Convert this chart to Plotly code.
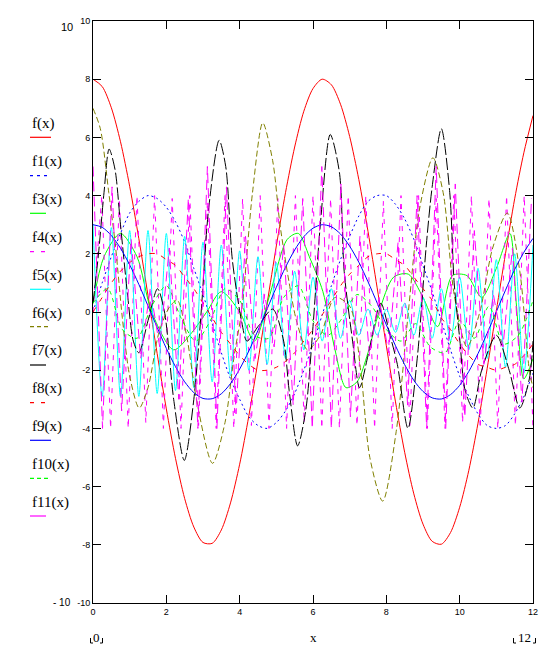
import plotly.graph_objects as go

# ---------------- data ----------------
x_q = [0, 0.25, 0.5, 0.75, 1.0, 1.25, 1.5, 1.75, 2.0, 2.25, 2.5, 2.75, 3.0, 3.25,
       3.5, 3.75, 4.0, 4.25, 4.5, 4.75, 5.0, 5.25, 5.5, 5.75, 6.0, 6.25, 6.5,
       6.75, 7.0, 7.25, 7.5, 7.75, 8.0, 8.25, 8.5, 8.75, 9.0, 9.25, 9.5, 9.75,
       10.0, 10.25, 10.5, 10.75, 11.0, 11.25, 11.5, 11.75, 12.0]

f_vals = [8.0, 7.75, 7.02, 5.85, 4.32, 2.52, 0.57, -1.43, -3.33, -5.03, -6.41,
          -7.39, -7.92, -7.95, -7.49, -6.56, -5.23, -3.57, -1.68, 0.30, 2.27, 4.10,
          5.67, 6.90, 7.68, 8.0, 7.81, 7.14, 6.03, 4.55, 2.77, 0.83, -1.16, -3.09,
          -4.82, -6.25, -7.29, -7.88, -7.98, -7.58, -6.71, -5.44, -3.82, -1.94,
          0.04, 2.01, 3.89, 5.47, 6.75]
f1_vals = [0.0, 1.0, 1.9, 2.7, 3.4, 3.8, 4.0, 3.9, 3.6, 3.1, 2.4, 1.5, 0.6, -0.4,
           -1.4, -2.3, -3.0, -3.6, -3.9, -4.0, -3.8, -3.4, -2.8, -2.0, -1.1, -0.1,
           0.9, 1.8, 2.6, 3.3, 3.8, 4.0, 4.0, 3.7, 3.2, 2.5, 1.6, 0.7, -0.3, -1.3,
           -2.2, -2.9, -3.5, -3.9, -4.0, -3.9, -3.5, -2.9, -2.1]
f8_vals = [0.0, 0.5, 1.0, 1.4, 1.7, 1.9, 2.0, 2.0, 1.8, 1.6, 1.2, 0.8, 0.3, -0.2,
           -0.7, -1.1, -1.5, -1.8, -2.0, -2.0, -1.9, -1.7, -1.4, -1.0, -0.6, -0.1,
           0.4, 0.9, 1.3, 1.6, 1.9, 2.0, 2.0, 1.8, 1.6, 1.2, 0.8, 0.4, -0.2, -0.6,
           -1.1, -1.5, -1.8, -1.9, -2.0, -1.9, -1.8, -1.5, -1.1]
f9_vals = [3.0, 2.91, 2.63, 2.19, 1.62, 0.95, 0.21, -0.53, -1.25, -1.88, -2.40,
           -2.77, -2.97, -2.98, -2.81, -2.46, -1.96, -1.34, -0.63, 0.11, 0.85, 1.54,
           2.13, 2.59, 2.88, 3.0, 2.93, 2.68, 2.26, 1.71, 1.04, 0.31, -0.44, -1.16,
           -1.81, -2.35, -2.73, -2.95, -2.99, -2.84, -2.52, -2.04, -1.43, -0.73,
           0.01, 0.75, 1.46, 2.05, 2.53]
f5_vals = [3.0, -2.9, 2.9, -2.9, 2.8, -2.9, 2.8, -2.8, 2.7, -2.7, 2.6, -2.6, 2.4,
           -2.4, 2.3, -2.2, 2.1, -2.0, 1.9, -1.8, 1.7, -1.6, 1.4, -1.3, 1.2, -1.0,
           0.8, -0.9, 0.4, -0.8, 0.1, -0.8, 0.1, -0.7, 0.3, -0.8, 0.5, -0.9, 0.8,
           -1.0, 1.2, -1.3, 1.5, -1.6, 1.8, -1.9, 2.0, -2.1, 2.3]

f3_x = [0, 0.3, 0.75, 1.2, 1.6, 2.2, 2.7, 3.1, 3.5, 4.0, 4.4, 4.8, 5.3, 5.6, 5.9,
        6.27, 6.6, 6.9, 7.2, 7.5, 7.8, 8.2, 8.6, 9.0, 9.4, 9.8, 10.2, 10.6, 11.0,
        11.37, 11.55, 11.75, 12.0]
f3_y = [0.3, 1.9, 2.7, 1.9, 0.0, -1.3, -0.7, 0.0, 0.7, 0.0, -1.0, 0.5, 2.5, 2.7,
        1.9, 0.7, -1.3, -2.6, -2.4, -1.4, 0.0, 1.2, 1.3, 0.5, -0.5, 1.25, 1.25,
        0.5, 1.5, 2.7, 0.2, -2.3, -1.6]

x_f4 = [0, 0.24, 0.48, 0.72, 0.96, 1.2, 1.44, 1.68, 1.92, 2.16, 2.4, 2.64, 2.88,
        3.12, 3.36, 3.6, 3.84, 4.08, 4.32, 4.56, 4.8, 5.04, 5.28, 5.52, 5.76, 6.0,
        6.24, 6.48, 6.72, 6.96, 7.2, 7.44, 7.68, 7.92, 8.16, 8.4, 8.64, 8.88,
        9.12, 9.36, 9.6, 9.84, 10.08, 10.32, 10.56, 10.8, 11.04, 11.28, 11.52,
        11.76, 12.0]
f4_vals = [0.0, 4.0, -4.0, 3.9, -4.0, 4.0, -3.8, 4.0, -4.0, 3.9,
           -4.0, 4.0, -3.9, 3.8, -4.0, 4.0, -4.0, 3.9, -3.9, 4.0,
           -4.0, 3.9, -4.0, 4.0, -3.8, 4.0, -4.0, 3.9, -4.0, 4.0,
           -3.9, 4.0, -4.0, 3.8, -4.0, 4.0, -3.9, 4.0, -4.0, 3.9,
           -4.0, 4.0, -3.8, 4.0, -4.0, 3.9, -4.0, 4.0, -3.9, 4.0, -4.0]

f6_x = [0, 0.2, 0.43, 0.61, 0.8, 1.0, 1.26, 1.5, 1.8, 2.1, 2.3, 2.55, 2.85, 3.26,
        3.6, 3.85, 4.05, 4.35, 4.63, 4.9, 5.1, 5.35, 5.55, 5.85, 6.2, 6.6, 7.0,
        7.3, 7.55, 7.9, 8.27, 8.6, 8.9, 9.27, 9.55, 9.85, 10.2, 10.55, 10.9,
        11.3, 11.64, 11.9, 12.0]
f6_y = [7.0, 6.3, 4.1, 2.3, -0.2, -2.2, -3.3, -2.6, -0.7, 0.2, 0.4, -0.8, -3.2,
        -5.2, -3.8, -1.5, 0.0, 4.1, 6.5, 5.2, 3.0, 1.0, -0.3, -1.3, -0.8, 0.5,
        0.2, -2.0, -5.0, -6.5, -4.1, 0.0, 3.5, 5.3, 4.1, 0.6, -1.2, 0.0, 2.2,
        3.4, 1.4, -2.0, -2.6]

f7_x = [0, 0.15, 0.3, 0.44, 0.6, 0.75, 0.95, 1.1, 1.25, 1.5, 1.76, 1.95, 2.2,
        2.49, 2.75, 2.95, 3.15, 3.44, 3.62, 3.8, 4.05, 4.2, 4.5, 4.9, 5.2, 5.35,
        5.58, 5.8, 6.0, 6.2, 6.47, 6.72, 6.85, 7.08, 7.27, 7.5, 7.85, 8.1, 8.3,
        8.59, 8.85, 9.09, 9.25, 9.5, 9.73, 9.85, 10.0, 10.15, 10.36, 10.6, 11.0,
        11.35, 11.64, 11.9, 12.0]
f7_y = [0.3, 2.0, 4.1, 5.6, 4.9, 3.0, 0.5, -1.0, -1.4, -0.3, 0.8, 0.0, -3.0,
        -5.1, -3.0, 0.0, 3.5, 5.9, 5.0, 1.8, -0.3, -1.0, -0.5, 0.1, -1.0, -2.7,
        -4.6, -3.4, -0.5, 3.0, 6.1, 4.8, 1.4, -1.0, -2.6, -1.5, 0.3, -0.8, -1.8,
        -4.0, -1.5, 2.3, 4.3, 6.3, 4.1, 1.0, -0.9, -2.7, -3.3, -2.0, -0.8, -2.0,
        -3.3, -2.3, -1.0]

x_f10 = [0, 0.4, 0.8, 1.2, 1.6, 2.0, 2.4, 2.8, 3.2, 3.6, 4.0, 4.4, 4.8, 5.2, 5.6,
         6.0, 6.4, 6.8, 7.2, 7.6, 8.0, 8.4, 8.8, 9.2, 9.6, 10.0, 10.4, 10.8, 11.2,
         11.6, 12.0]
f10_vals = [0.3, 0.8, -0.6, -0.9, 0.2, 0.9, -0.2, -1.0, -0.3, 0.8, 0.4, -0.8,
            -0.9, 0.5, 0.9, -0.3, -0.8, -0.2, 0.6, 0.2, -0.6, -1.0, -0.4, -1.2,
            -1.4, -0.3, -0.9, 0.2, -1.1, -0.8, 0.4]

x_f11 = [0, 0.26, 0.52, 0.78, 1.04, 1.3, 1.56, 1.82, 2.08, 2.34, 2.6, 2.86, 3.12,
         3.38, 3.64, 3.9, 4.16, 4.42, 4.68, 4.94, 5.2, 5.46, 5.72, 5.98, 6.24,
         6.5, 6.76, 7.02, 7.28, 7.54, 7.8, 8.06, 8.32, 8.58, 8.84, 9.1, 9.36,
         9.62, 9.88, 10.14, 10.4, 10.66, 10.92, 11.18, 11.44, 11.7, 11.96]
f11_vals = [5.0, -4.0, 4.3, -3.4, 2.5, -1.6, 0.8, -1.2, 2.2, -3.0, 3.9, -4.0, 5.0,
            -4.0, 4.3, -3.5, 2.6, -1.6, 0.6, -1.2, 2.3, -3.2, 3.9, -4.0, 5.0, -4.0,
            4.4, -3.6, 2.6, -1.5, 0.5, -1.4, 2.4, -3.2, 4.0, -4.0, 5.0, -4.0, 4.4,
            -3.6, 2.8, -1.8, 0.6, -1.2, 2.2, -3.1, 3.9]

legend_labels = ["f(x)", "f1(x)", "f3(x)", "f4(x)", "f5(x)", "f6(x)", "f7(x)",
                 "f8(x)", "f9(x)", "f10(x)", "f11(x)"]
y_ticks = [-10, -8, -6, -4, -2, 0, 2, 4, 6, 8, 10]
x_ticks = [0, 2, 4, 6, 8, 10, 12]

# ---------------- styles ----------------
RED, BLUE, GREEN, MAG, CYAN, OLIVE, BLACK = ("#ff0000", "#0000ff", "#00ff00",
                                             "#ff00ff", "#00ffff", "#808000", "#000000")

series = [
    (x_q, f_vals, RED, "solid", "spline"),
    (x_q, f1_vals, BLUE, "2px,3px", "spline"),
    (f3_x, f3_y, GREEN, "solid", "spline"),
    (x_f4, f4_vals, MAG, "5px,6px", "linear"),
    (x_q, f5_vals, CYAN, "solid", "spline"),
    (f6_x, f6_y, OLIVE, "6px,3px", "spline"),
    (f7_x, f7_y, BLACK, "12px,3px", "spline"),
    (x_q, f8_vals, RED, "5px,7px", "spline"),
    (x_q, f9_vals, BLUE, "solid", "spline"),
    (x_f10, f10_vals, GREEN, "4px,4px", "spline"),
    (x_f11, f11_vals, MAG, "10px,5px", "linear"),
]
legend_dash = ["solid", "3px,4px", "solid", "4px,7px", "solid", "4px,3px",
               "solid", "4px,7px", "solid", "4px,3px", "solid"]
legend_len = [21, 21, 16, 16, 21, 21, 16, 16, 21, 21, 16]
legend_text_py = [123.3, 161.7, 199.3, 237.3, 275.7, 313.3, 350.7, 388.7, 426.7,
                  464.3, 502.7]
legend_line_py = [137.3, 175.7, 213.3, 251.7, 289.3, 326.7, 365.0, 402.7, 440.3,
                  478.3, 516.0]

fig = go.Figure()
for (xs, ys, col, dash, shape) in series:
    fig.add_trace(go.Scatter(x=xs, y=ys, mode="lines",
                             line=dict(color=col, width=1, dash=dash, shape=shape,
                                       smoothing=0.8),
                             hoverinfo="skip", showlegend=False))

L, R, T, B = 93, 22, 21, 42
W, H = 555, 645
PW, PH = W - L - R, H - T - B


def px(x):
    return (x - L) / PW


def py(y):
    return (H - B - y) / PH


annotations = []
shapes = []
cols_leg = [s[2] for s in series]
for i, lab in enumerate(legend_labels):
    annotations.append(dict(x=px(30), y=py(legend_text_py[i]), xref="paper", yref="paper",
                            text=lab, showarrow=False, xanchor="left", yanchor="middle",
                            font=dict(family="Liberation Serif", size=15, color="black")))
    shapes.append(dict(type="line", xref="paper", yref="paper",
                       x0=px(30), x1=px(30 + legend_len[i]),
                       y0=py(legend_line_py[i]), y1=py(legend_line_py[i]),
                       line=dict(color=cols_leg[i], width=1.2, dash=legend_dash[i])))

# Mathcad axis-limit fields
lim_font = dict(family="Liberation Serif", size=13, color="black")
annotations.append(dict(x=px(67), y=py(27), xref="paper", yref="paper", text="10",
                        showarrow=False, xanchor="center", yanchor="middle",
                        font=dict(family="Liberation Sans", size=11, color="black")))
annotations.append(dict(x=px(62), y=py(602), xref="paper", yref="paper", text="- 10",
                        showarrow=False, xanchor="center", yanchor="middle",
                        font=dict(family="Liberation Sans", size=10, color="black")))
annotations.append(dict(x=px(96.5), y=py(637), xref="paper", yref="paper", text="0",
                        showarrow=False, xanchor="center", yanchor="middle", font=lim_font))
annotations.append(dict(x=px(313), y=py(637), xref="paper", yref="paper", text="x",
                        showarrow=False, xanchor="center", yanchor="middle", font=lim_font))
annotations.append(dict(x=px(524.5), y=py(637), xref="paper", yref="paper", text="12",
                        showarrow=False, xanchor="center", yanchor="middle", font=lim_font))
for (xl, xr) in [(90.5, 102.5), (513.5, 535.5)]:
    for xa, xb in [(xl, xl + 2.5), (xr, xr - 2.5)]:
        shapes.append(dict(type="line", xref="paper", yref="paper", x0=px(xa), x1=px(xa),
                           y0=py(638), y1=py(643), line=dict(color="black", width=1)))
        shapes.append(dict(type="line", xref="paper", yref="paper", x0=px(xa), x1=px(xb),
                           y0=py(643), y1=py(643), line=dict(color="black", width=1)))

axis_common = dict(showgrid=False, zeroline=False, showline=True, linecolor="black",
                   linewidth=1, mirror="ticks", ticks="inside", ticklen=8, tickwidth=1,
                   tickcolor="black")
fig.update_layout(
    width=W, height=H, autosize=False,
    margin=dict(l=L, r=R, t=T, b=B, pad=0),
    paper_bgcolor="white", plot_bgcolor="white",
    xaxis=dict(range=[0, 12], tickvals=x_ticks, ticktext=[str(v) for v in x_ticks],
               tickfont=dict(family="Liberation Sans", size=9, color="black"),
               **axis_common),
    yaxis=dict(range=[-10, 10], tickvals=y_ticks, ticktext=[str(v) for v in y_ticks],
               tickfont=dict(family="Liberation Sans", size=9, color="black"),
               **axis_common),
    annotations=annotations, shapes=shapes, showlegend=False,
)
fig.write_html("out.html", config={"displayModeBar": False})

# remove the browser's default page margin so the figure sits at the window corner
with open("out.html", "r", encoding="utf-8") as fh:
    page = fh.read()
page = page.replace("<head>", "<head><style>html,body{margin:0;padding:0;overflow:hidden;}</style>", 1)
with open("out.html", "w", encoding="utf-8") as fh:
    fh.write(page)
